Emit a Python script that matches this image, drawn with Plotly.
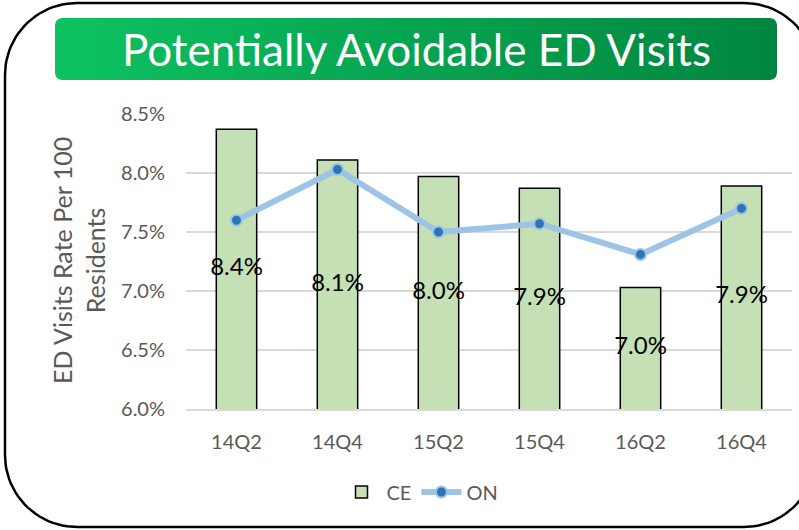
import numpy as np
import plotly.graph_objects as go

# Quarterly rates of potentially avoidable ED visits (share of residents)
quarters = ["14Q2", "14Q4", "15Q2", "15Q4", "16Q2", "16Q4"]
ce_rate = [0.0837, 0.0811, 0.0797, 0.0787, 0.0703, 0.0789]
on_rate = [0.0760, 0.0803, 0.0750, 0.0757, 0.0731, 0.0770]
y_ticks = [0.060, 0.065, 0.070, 0.075, 0.080, 0.085]
y_base = 0.060

W, H = 799, 530
FONT = "Lato"
GREY = "#595959"

# plot area in pixels
PX0, PX1, PY0, PY1 = 186, 792, 114, 409


def rounded_rect(x0, y0, x1, y1, r, n=24):
    """Closed outline of a rounded rectangle (y grows downward)."""
    xs, ys = [], []
    corners = [
        (x1 - r, y0 + r, -np.pi / 2, 0.0),
        (x1 - r, y1 - r, 0.0, np.pi / 2),
        (x0 + r, y1 - r, np.pi / 2, np.pi),
        (x0 + r, y0 + r, np.pi, 1.5 * np.pi),
    ]
    for cx, cy, a0, a1 in corners:
        t = np.linspace(a0, a1, n)
        xs.extend(cx + r * np.cos(t))
        ys.extend(cy + r * np.sin(t))
    xs.append(xs[0])
    ys.append(ys[0])
    return xs, ys


fig = go.Figure()

fig.add_trace(go.Bar(
    x=quarters, y=ce_rate, name="CE",
    width=0.4,
    marker=dict(color="#C5E0B4", line=dict(color="#000000", width=1.5)),
    xaxis="x", yaxis="y",
))

# value labels centred in each bar (midway between the axis floor and the top)
fig.add_trace(go.Scatter(
    x=quarters, y=[(y_base + v) / 2 for v in ce_rate],
    text=[f"{v:.1%}" for v in ce_rate],
    mode="text", textposition="middle center",
    textfont=dict(family=FONT, size=24, color="#000000"),
    hoverinfo="skip", showlegend=False, cliponaxis=False,
    xaxis="x", yaxis="y",
))

fig.add_trace(go.Scatter(
    x=quarters, y=on_rate, name="ON",
    mode="lines+markers",
    line=dict(color="#9DC3E6", width=6),
    marker=dict(color="#2E75B6", size=11, line=dict(color="#9DC3E6", width=2)),
    xaxis="x", yaxis="y",
))

# frame and title banner drawn on a full-figure overlay axis (pixel units)
bx, by = rounded_rect(5, 3, 816, 527, 72)
fig.add_trace(go.Scatter(
    x=bx, y=by, mode="lines", line=dict(color="#000000", width=2.5),
    hoverinfo="skip", showlegend=False, xaxis="x2", yaxis="y2",
))

tx, ty = rounded_rect(55, 18, 777, 80, 7)
fig.add_trace(go.Scatter(
    x=tx, y=ty, mode="lines", fill="toself",
    line=dict(width=0, color="rgba(0,0,0,0)"),
    fillgradient=dict(type="horizontal",
                      colorscale=[[0, "#0DC261"], [1, "#00853F"]]),
    hoverinfo="skip", showlegend=False, xaxis="x2", yaxis="y2",
))

fig.update_layout(
    width=W, height=H,
    margin=dict(l=0, r=0, t=0, b=0),
    paper_bgcolor="#FFFFFF",
    plot_bgcolor="rgba(0,0,0,0)",
    font=dict(family=FONT, color=GREY),
    bargap=0.6,
    xaxis=dict(
        domain=[PX0 / W, PX1 / W],
        showgrid=False, zeroline=False,
        showline=True, linecolor="#D9D9D9", linewidth=1.5,
        ticks="", ticklabelstandoff=14,
        tickfont=dict(family=FONT, size=20, color=GREY),
        automargin=False,
    ),
    yaxis=dict(
        domain=[(H - PY1) / H, (H - PY0) / H],
        range=[y_base, 0.085],
        tickvals=y_ticks, tickformat=".1%",
        showgrid=True, gridcolor="#D9D9D9", gridwidth=1.5,
        zeroline=False, showline=False,
        ticks="", ticklabelstandoff=20,
        tickfont=dict(family=FONT, size=20, color=GREY),
        automargin=False,
    ),
    xaxis2=dict(domain=[0, 1], range=[0, W], visible=False,
                anchor="y2", fixedrange=True),
    yaxis2=dict(domain=[0, 1], range=[H, 0], visible=False,
                anchor="x2", fixedrange=True),
    legend=dict(
        orientation="h", x=420 / W, xanchor="center",
        y=(H - 492) / H, yanchor="middle",
        font=dict(family=FONT, size=20, color=GREY),
        bgcolor="rgba(0,0,0,0)", itemwidth=40,
    ),
    annotations=[
        dict(text="Potentially Avoidable ED Visits",
             x=416, y=49, xref="x2", yref="y2", showarrow=False,
             font=dict(family=FONT, size=44, color="#FFFFFF")),
        dict(text="ED Visits Rate Per 100<br>Residents",
             x=78, y=261, xref="x2", yref="y2", showarrow=False,
             textangle=-90,
             font=dict(family=FONT, size=25, color=GREY)),
    ],
    showlegend=True,
)

fig.write_html("out.html")
